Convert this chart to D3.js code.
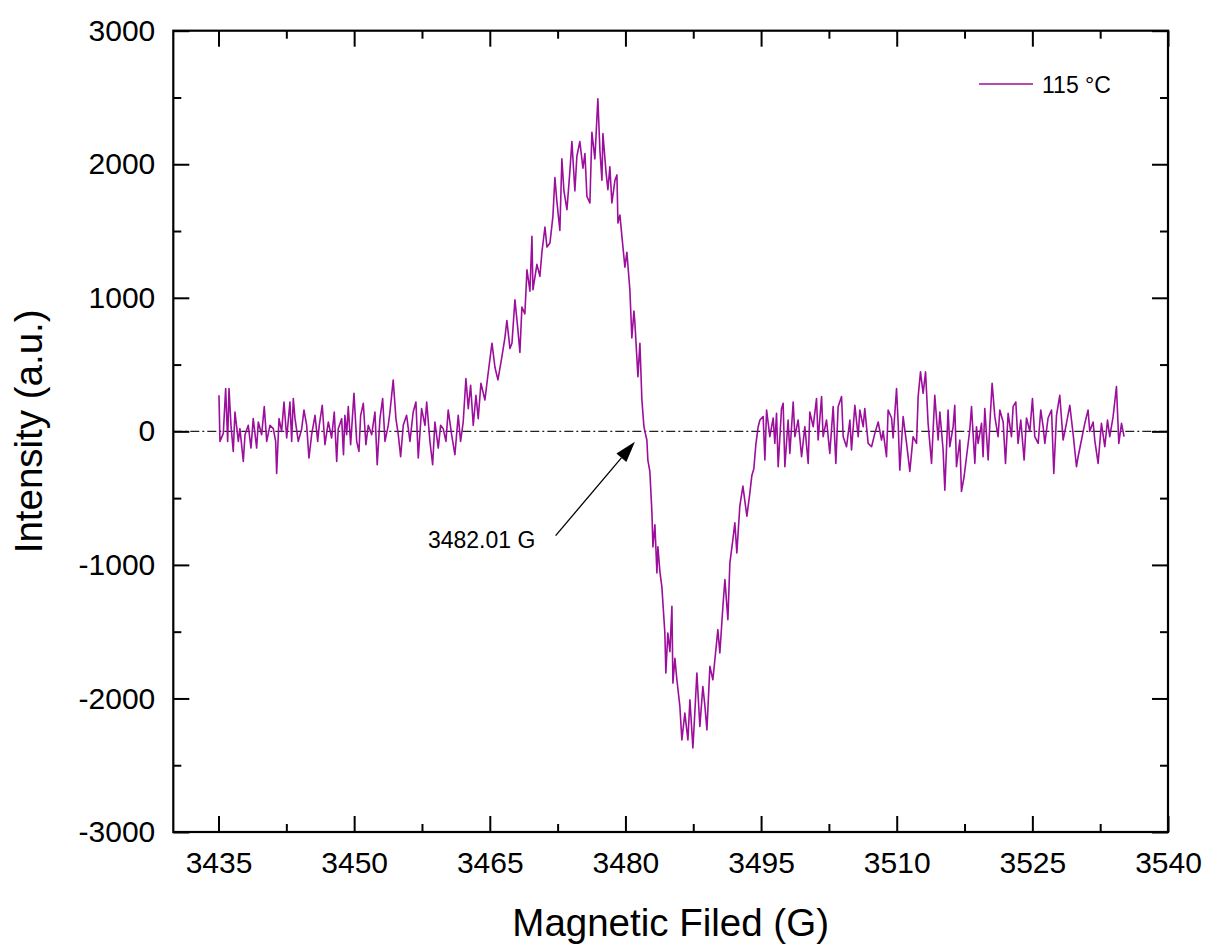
<!DOCTYPE html>
<html><head><meta charset="utf-8">
<script src="https://cdn.jsdelivr.net/npm/d3@7"></script>
<style>
body{margin:0;background:#fff}
text{font-family:"Liberation Sans",Arial,Helvetica,sans-serif;fill:#000}
</style>
</head><body>
<svg id="chart" width="1205" height="945"></svg>
<script>
// ---------- data ----------
const xDomain = [3430, 3540];
const yDomain = [-3000, 3000];
const xTicks = [3435, 3450, 3465, 3480, 3495, 3510, 3525, 3540];
const xMinorTicks = [3442.5, 3457.5, 3472.5, 3487.5, 3502.5, 3517.5, 3532.5];
const yTicks = [-3000, -2000, -1000, 0, 1000, 2000, 3000];
const yMinorTicks = [-2500, -1500, -500, 500, 1500, 2500];
const xTitle = "Magnetic Filed (G)";
const yTitle = "Intensity (a.u.)";
const seriesName = "115 \u00B0C";
const annotationLabel = "3482.01 G";
const annotationTip = [3481.05, -78];
const annotationTail = [3472.28, -781];
const annotationText = [3458.16, -873];

// [field (G), intensity (a.u.)]
const spectrum = [
[3435.05,270],[3435.16,-75],[3435.53,-15],[3435.79,320],[3436.01,-75],[3436.16,320],[3436.38,45],[3436.63,-150],[3436.82,145],[3437.19,-75],
[3437.37,20],[3437.74,-225],[3437.93,-25],[3438.29,45],[3438.59,-125],[3438.84,95],[3439.22,-125],[3439.40,70],[3439.77,-25],[3440.06,185],
[3440.33,-75],[3440.69,45],[3441.06,20],[3441.32,-75],[3441.43,-315],[3441.69,95],[3441.98,0],[3442.24,220],[3442.54,-50],[3442.90,220],
[3443.09,-75],[3443.27,245],[3443.46,95],[3443.82,-75],[3444.20,20],[3444.45,160],[3444.75,45],[3445.00,-200],[3445.30,-25],[3445.67,120],
[3445.97,-75],[3446.14,45],[3446.47,195],[3446.77,-100],[3447.14,70],[3447.51,-50],[3447.80,145],[3448.07,-225],[3448.24,20],[3448.62,95],
[3448.82,-175],[3448.98,120],[3449.17,-25],[3449.35,185],[3449.61,-100],[3449.98,285],[3450.28,-75],[3450.53,-150],[3450.72,120],[3451.01,210],
[3451.30,-100],[3451.56,45],[3451.94,-25],[3452.30,145],[3452.55,-250],[3452.85,95],[3453.15,245],[3453.41,-75],[3453.77,45],[3453.96,145],
[3454.32,385],[3454.62,95],[3454.88,-25],[3455.14,-190],[3455.43,45],[3455.80,120],[3456.17,-75],[3456.53,145],[3456.83,220],[3457.09,-200],
[3457.46,170],[3457.83,45],[3458.02,220],[3458.38,-75],[3458.68,-250],[3458.93,70],[3459.30,-125],[3459.56,45],[3459.85,20],[3460.15,-75],
[3460.40,160],[3460.78,-25],[3461.14,-175],[3461.51,120],[3461.77,-75],[3462.06,70],[3462.36,395],[3462.62,170],[3462.88,345],[3463.17,45],
[3463.47,270],[3463.72,95],
[3464.02,360],[3464.46,235],[3464.79,420],[3465.24,660],[3465.57,480],[3465.90,385],[3466.34,560],[3466.67,700],[3466.89,830],[3467.23,620],
[3467.45,660],[3467.78,985],[3468.11,760],[3468.33,590],[3468.55,930],[3468.88,880],[3469.11,1210],[3469.44,1050],[3469.66,1460],[3469.77,1060],
[3470.21,1250],[3470.54,1160],[3470.76,1340],[3471.10,1530],[3471.32,1380],[3471.65,1410],[3471.98,1610],[3472.20,1900],[3472.42,1720],[3472.75,1505],
[3472.97,2040],[3473.20,1800],[3473.53,1660],[3473.86,1950],[3474.08,2170],[3474.41,1800],[3474.63,2060],[3474.96,2170],[3475.30,1970],[3475.52,2080],
[3475.74,1760],[3476.07,1710],[3476.29,2240],[3476.62,2040],[3476.95,2490],[3477.18,2100],[3477.40,1880],[3477.51,2230],[3477.84,1950],[3478.06,1810],
[3478.28,1980],[3478.50,1710],[3478.84,1880],[3479.06,1920],[3479.17,1560],[3479.39,1620],[3479.61,1460],[3479.94,1230],[3480.16,1340],[3480.49,1060],
[3480.71,700],[3480.94,900],[3481.05,810],[3481.38,410],[3481.60,660],[3481.82,235],[3482.04,40],[3482.15,0],[3482.37,-65],[3482.48,-215],
[3482.70,-300],[3482.93,-610],[3483.04,-865],[3483.26,-700],[3483.48,-1060],[3483.59,-865],[3483.81,-1050],[3484.03,-1165],[3484.36,-1510],[3484.47,-1810],
[3484.69,-1510],[3484.92,-1650],[3485.14,-1310],[3485.25,-1885],[3485.47,-1700],[3485.69,-1860],[3486.02,-2060],[3486.24,-2310],[3486.57,-2110],[3486.91,-2310],
[3487.13,-2010],[3487.46,-2370],[3487.68,-2100],[3487.90,-1810],[3488.23,-2210],[3488.56,-1910],[3488.78,-2050],[3489.01,-2235],[3489.34,-1760],[3489.67,-1860],
[3489.89,-1710],[3490.22,-1485],[3490.44,-1660],[3490.78,-1310],[3491.00,-1110],[3491.33,-1410],[3491.55,-985],[3491.88,-810],[3492.10,-685],[3492.32,-910],
[3492.65,-560],[3492.99,-410],[3493.43,-635],[3493.76,-460],[3493.98,-330],[3494.20,-280],[3494.42,-100],[3494.68,35],[3494.87,85],
[3495.23,110],[3495.42,-215],[3495.61,160],[3495.97,-40],[3496.34,100],[3496.52,-90],[3496.71,135],[3496.89,-265],[3497.26,170],[3497.44,210],
[3497.63,-265],[3497.99,85],[3498.18,-165],[3498.55,220],[3498.74,-40],[3499.10,85],[3499.48,-190],[3499.84,35],[3500.21,-240],[3500.39,145],
[3500.76,35],[3501.13,245],[3501.31,-65],[3501.69,260],[3501.86,-40],[3502.24,85],[3502.60,-165],[3502.97,185],[3503.27,-240],[3503.52,185],
[3503.90,260],[3504.08,-40],[3504.45,-115],[3504.82,85],[3505.00,-140],[3505.37,195],[3505.74,-40],[3505.92,160],[3506.29,35],[3506.47,170],
[3506.84,-90],[3507.22,-115],[3507.58,-15],[3507.95,70],[3508.32,-65],[3508.50,0],[3508.87,-190],[3509.05,160],[3509.43,100],[3509.60,-50],
[3509.98,320],[3510.16,60],[3510.34,-290],[3510.71,110],[3511.09,-90],[3511.45,-300],[3511.81,-40],[3512.19,-90],[3512.37,260],[3512.63,445],
[3512.92,285],[3513.19,445],[3513.47,60],[3513.85,-240],[3514.21,270],[3514.58,-65],[3514.77,145],[3515.13,-140],[3515.32,-440],[3515.68,160],
[3515.87,-115],[3516.24,35],[3516.42,195],[3516.61,-265],[3516.98,-65],[3517.16,-450],[3517.45,-340],[3517.72,-190],[3518.08,10],[3518.27,185],
[3518.64,-240],[3518.82,35],[3519.00,-90],[3519.38,60],[3519.55,-190],[3519.74,170],[3520.11,-215],[3520.29,45],[3520.55,360],[3520.85,110],
[3521.21,-40],[3521.40,160],[3521.77,70],[3522.03,-240],[3522.32,135],[3522.69,-40],[3522.87,185],[3523.17,220],[3523.42,-90],[3523.72,85],
[3524.09,-215],[3524.35,100],[3524.72,0],[3525.01,245],[3525.27,-40],[3525.64,-90],[3525.93,160],[3526.19,35],[3526.38,-90],[3526.74,100],
[3527.12,160],[3527.37,-315],[3527.67,120],[3528.03,270],[3528.40,-65],[3528.77,60],[3529.14,195],[3529.50,-15],[3529.88,-265],[3530.06,-190],
[3530.43,-65],[3530.80,60],[3531.16,160],[3531.35,0],[3531.72,70],[3531.90,-65],[3532.27,-240],[3532.64,60],[3533.01,-115],[3533.31,85],
[3533.56,-40],[3533.93,110],[3534.30,335],[3534.56,-90],[3534.86,60],[3535.14,-40]
];

// ---------- layout ----------
const L = 173.3, R = 1168, T = 30.7, B = 832;
const lineColor = "#9C0E9C";
const svg = d3.select("#chart");
const x = d3.scaleLinear().domain(xDomain).range([L, R]);
const y = d3.scaleLinear().domain(yDomain).range([B, T]);

// zero reference line (dash-dot)
svg.append("line")
  .attr("x1", x(xDomain[0])).attr("x2", x(xDomain[1]))
  .attr("y1", y(0)).attr("y2", y(0))
  .attr("stroke", "#222").attr("stroke-width", 1.1)
  .attr("stroke-dasharray", "9,3,2,3");

// spectrum
const line = d3.line().x(d => x(d[0])).y(d => y(d[1]));
svg.append("path").datum(spectrum)
  .attr("d", line).attr("fill", "none")
  .attr("stroke", lineColor).attr("stroke-width", 1.6)
  .attr("stroke-linejoin", "round");

// axes
function styleAxis(g, fontSize) {
  g.select(".domain").remove();
  g.selectAll(".tick line").attr("stroke", "#000").attr("stroke-width", 2);
  g.selectAll(".tick text").attr("font-size", fontSize)
    .attr("font-family", '"Liberation Sans",Arial,sans-serif').attr("fill", "#000");
}
const fs = 30;
svg.append("g").attr("transform", `translate(0,${B})`)
  .call(d3.axisBottom(x).tickValues(xTicks).tickFormat(d3.format("d")).tickSizeInner(-16).tickSizeOuter(0).tickPadding(20))
  .call(g => styleAxis(g, fs));
svg.append("g").attr("transform", `translate(0,${B})`)
  .call(d3.axisBottom(x).tickValues(xMinorTicks).tickFormat("").tickSizeInner(-8).tickSizeOuter(0))
  .call(g => styleAxis(g, fs));
svg.append("g").attr("transform", `translate(0,${T})`)
  .call(d3.axisTop(x).tickValues(xTicks).tickFormat("").tickSizeInner(-16).tickSizeOuter(0))
  .call(g => styleAxis(g, fs));
svg.append("g").attr("transform", `translate(0,${T})`)
  .call(d3.axisTop(x).tickValues(xMinorTicks).tickFormat("").tickSizeInner(-8).tickSizeOuter(0))
  .call(g => styleAxis(g, fs));
svg.append("g").attr("transform", `translate(${L},0)`)
  .call(d3.axisLeft(y).tickValues(yTicks).tickFormat(d3.format("d")).tickSizeInner(-16).tickSizeOuter(0).tickPadding(18))
  .call(g => styleAxis(g, fs));
svg.append("g").attr("transform", `translate(${L},0)`)
  .call(d3.axisLeft(y).tickValues(yMinorTicks).tickFormat("").tickSizeInner(-8).tickSizeOuter(0))
  .call(g => styleAxis(g, fs));
svg.append("g").attr("transform", `translate(${R},0)`)
  .call(d3.axisRight(y).tickValues(yTicks).tickFormat("").tickSizeInner(-16).tickSizeOuter(0))
  .call(g => styleAxis(g, fs));
svg.append("g").attr("transform", `translate(${R},0)`)
  .call(d3.axisRight(y).tickValues(yMinorTicks).tickFormat("").tickSizeInner(-8).tickSizeOuter(0))
  .call(g => styleAxis(g, fs));

// plain hyphen minus like the original
svg.selectAll(".tick text").each(function(){ const t=d3.select(this); t.text(t.text().replace("\u2212","-")); });

// frame
svg.append("rect").attr("x", L).attr("y", T).attr("width", R - L).attr("height", B - T)
  .attr("fill", "none").attr("stroke", "#000").attr("stroke-width", 2.2);

// axis titles
svg.append("text").attr("x", (L + R) / 2).attr("y", 936)
  .attr("text-anchor", "middle").attr("font-size", 38.5).text(xTitle);
svg.append("text").attr("transform", `translate(42,${(T + B) / 2}) rotate(-90)`)
  .attr("text-anchor", "middle").attr("font-size", 38.5).text(yTitle);

// legend
svg.append("line").attr("x1", 979).attr("x2", 1033).attr("y1", 84).attr("y2", 84)
  .attr("stroke", lineColor).attr("stroke-width", 1.6);
svg.append("text").attr("x", 1042).attr("y", 93).attr("font-size", 23).text(seriesName);

// annotation arrow
const tx = x(annotationTip[0]), ty = y(annotationTip[1]);
const sx = x(annotationTail[0]), sy = y(annotationTail[1]);
const ang = Math.atan2(ty - sy, tx - sx);
const hl = 21, hw = 6.5;
const bx = tx - hl * Math.cos(ang), by = ty - hl * Math.sin(ang);
svg.append("line").attr("x1", sx).attr("y1", sy).attr("x2", bx).attr("y2", by)
  .attr("stroke", "#000").attr("stroke-width", 1.3);
svg.append("path")
  .attr("d", `M${tx},${ty} L${bx + hw * Math.sin(ang)},${by - hw * Math.cos(ang)} L${bx - hw * Math.sin(ang)},${by + hw * Math.cos(ang)} Z`)
  .attr("fill", "#000");
svg.append("text").attr("x", x(annotationText[0])).attr("y", y(annotationText[1]))
  .attr("font-size", 23).text(annotationLabel);
</script>
</body></html>
